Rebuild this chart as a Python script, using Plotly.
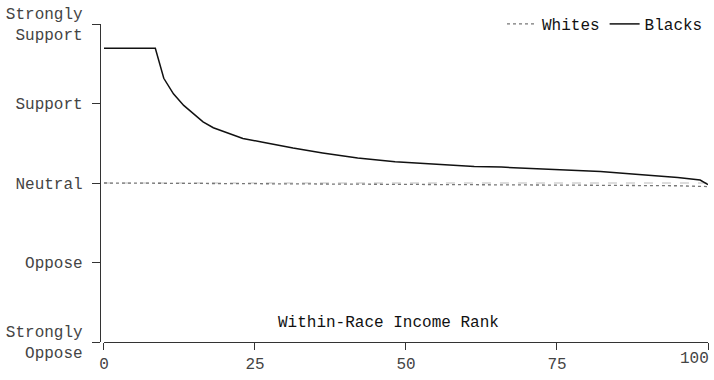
import plotly.graph_objects as go

# Within-race income rank (percentile) and mean attitude score
# (-2 = Strongly Oppose ... 2 = Strongly Support)
blacks_rank = [0, 8.5, 9.9, 11.5, 13.2, 14.8, 16.4, 18.1, 20.6, 23.0, 26.3,
               31.3, 36.2, 42.0, 48.2, 55.0, 61.3, 65.8, 72.0, 82.2, 88.0,
               95.0, 98.7, 100]
blacks_score = [1.695, 1.695, 1.317, 1.122, 0.976, 0.878, 0.768, 0.695, 0.622,
                0.561, 0.512, 0.439, 0.378, 0.315, 0.268, 0.235, 0.207, 0.200,
                0.180, 0.146, 0.110, 0.070, 0.037, -0.020]

whites_rank = [0, 20, 40, 60, 80, 95, 100]
whites_score = [0.0, -0.005, -0.012, -0.020, -0.028, -0.035, -0.045]

y_ticks = [-2, -1, 0, 1, 2]
y_labels = ["Strongly<br>Oppose", "Oppose", "Neutral", "Support", "Strongly<br>Support"]
x_ticks = [0, 25, 50, 75, 100]
x_labels = ["0", "25", "50", "75", ""]

FONT = "Liberation Mono, DejaVu Sans Mono, monospace"

fig = go.Figure()

fig.add_trace(go.Scatter(
    x=whites_rank, y=whites_score, mode="lines", name="Whites",
    line=dict(color="#777777", width=1.3, dash="dot"),
))
fig.add_trace(go.Scatter(
    x=blacks_rank, y=blacks_score, mode="lines", name="Blacks",
    line=dict(color="#111111", width=1.5),
))

# neutral reference line
fig.add_shape(type="line", xref="x", yref="y", x0=0, x1=100, y0=0, y1=0,
              line=dict(color="#bbbbbb", width=1, dash="dash"), layer="below")

fig.add_annotation(
    text="Within-Race Income Rank", xref="paper", yref="paper",
    x=(386 - 96) / 612, y=(380 - 31 - 329) / 327, showarrow=False,
    xanchor="center", yanchor="middle",
    font=dict(family=FONT, size=16, color="#111111"),
)

# last x tick label, kept inside the page edge
fig.add_annotation(
    text=str(x_ticks[-1]), xref="x", yref="paper", x=x_ticks[-1], y=0,
    yshift=-17, xshift=3, showarrow=False, xanchor="right", yanchor="middle",
    font=dict(family=FONT, size=16, color="#444444"),
)

fig.update_layout(
    width=714, height=380,
    margin=dict(l=96, r=6, t=22, b=31),
    paper_bgcolor="white", plot_bgcolor="white",
    font=dict(family=FONT, size=16, color="#444444"),
    showlegend=True,
    legend=dict(orientation="h", x=1.0, xanchor="right", y=1.0, yanchor="middle",
                bgcolor="rgba(0,0,0,0)", font=dict(family=FONT, size=16, color="#111111"),
                itemwidth=30, tracegroupgap=0),
    xaxis=dict(
        domain=[4 / 612, 1], range=[0, 100], tickvals=x_ticks, ticktext=x_labels,
        showgrid=False, zeroline=False, showline=True, linecolor="#333333",
        linewidth=1.3, ticks="outside", ticklen=7, tickcolor="#333333",
        tickwidth=1.3, tickfont=dict(family=FONT, size=16, color="#444444"),
    ),
    yaxis=dict(
        range=[-2, 2], tickvals=y_ticks, ticktext=y_labels, anchor="free",
        position=0, showgrid=False, zeroline=False, showline=True,
        linecolor="#333333", linewidth=1.3, ticks="outside", ticklen=8,
        tickcolor="#333333", tickwidth=1.3, ticklabelstandoff=6,
        tickfont=dict(family=FONT, size=16, color="#444444"),
    ),
)

fig.write_html("out.html")
